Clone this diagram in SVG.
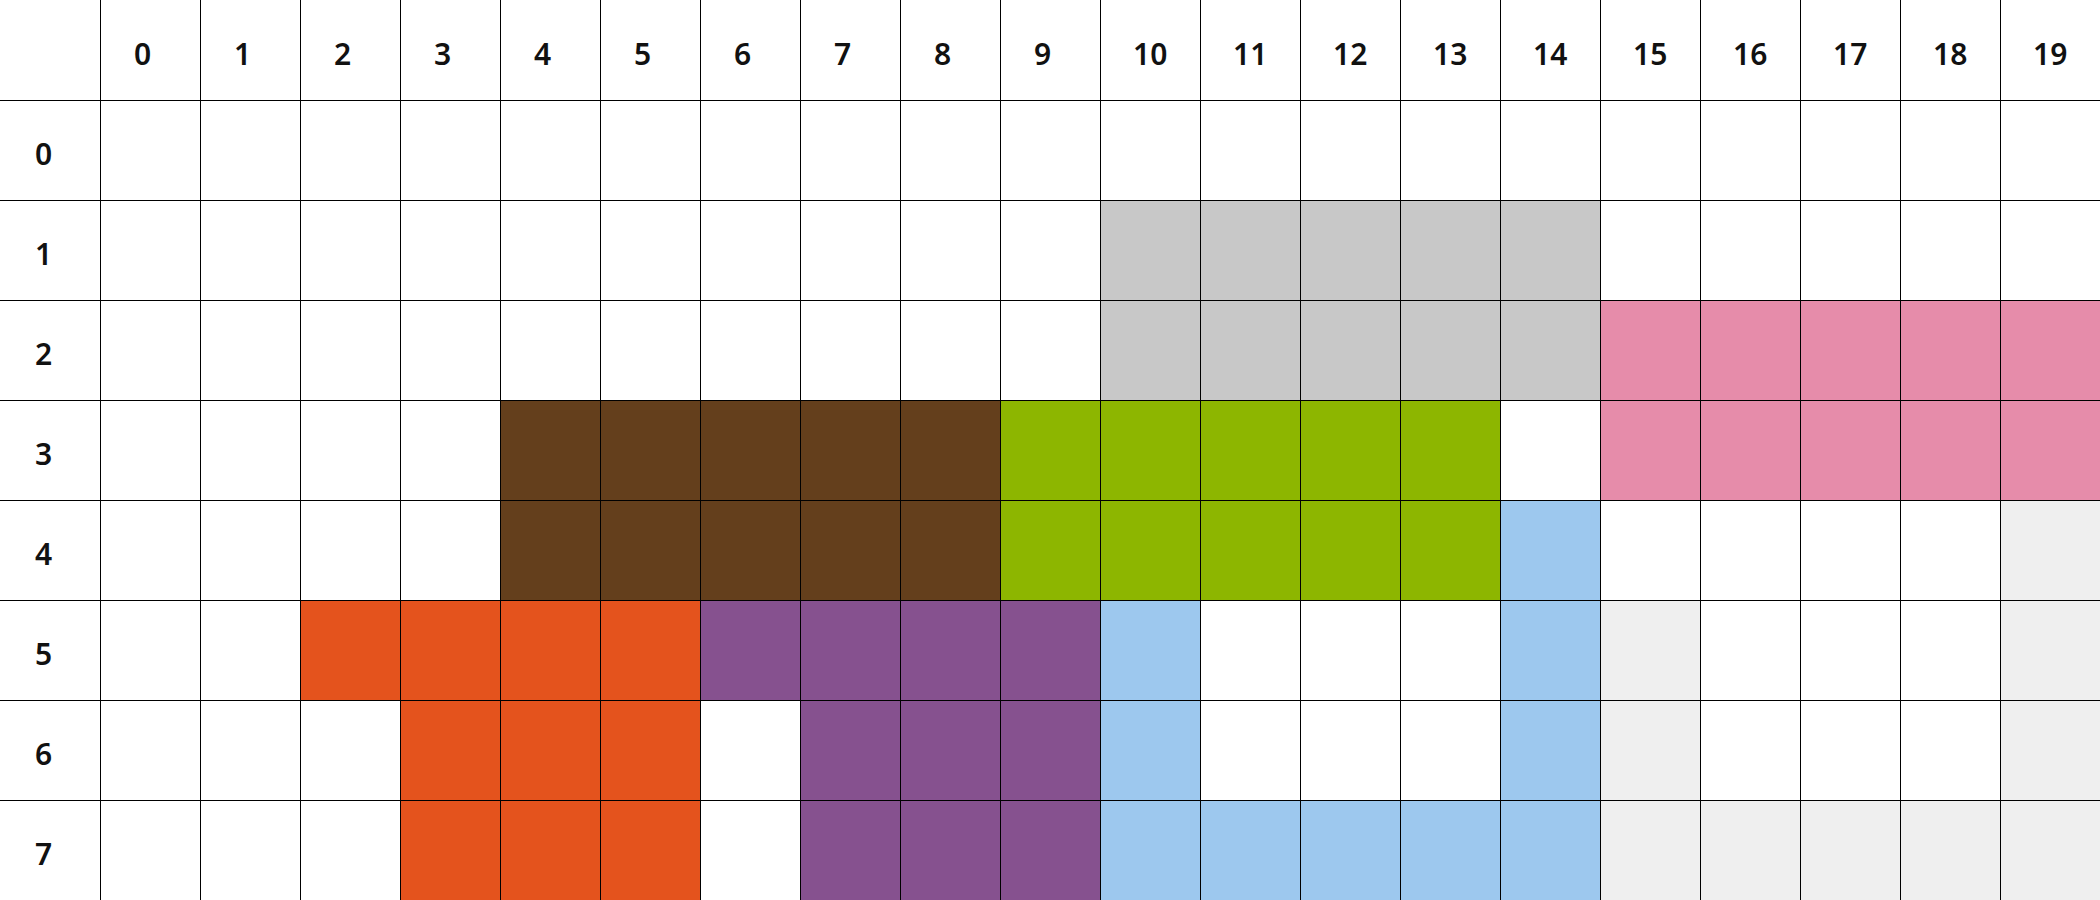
<svg xmlns="http://www.w3.org/2000/svg" width="2100" height="900" viewBox="0 0 2100 900">
<style>
.lbl{font-family:"Noto Sans","Liberation Sans",sans-serif;font-size:30px;font-weight:600;fill:#111}
.grid line{stroke:#000;stroke-width:1}
.gray{fill:#c8c8c8}.pink{fill:#e68caa}.brown{fill:#643f1c}.green{fill:#8db600}
.blue{fill:#9dc8ee}.lgray{fill:#efefef}.orange{fill:#e4531d}.purple{fill:#86518f}
</style>
<rect width="2100" height="900" fill="#fff"/>
<g id="region-gray" class="gray">
<rect x="1100" y="200" width="500" height="200"/>
</g>
<g id="region-pink" class="pink">
<rect x="1600" y="300" width="500" height="200"/>
</g>
<g id="region-brown" class="brown">
<rect x="500" y="400" width="500" height="200"/>
</g>
<g id="region-green" class="green">
<rect x="1000" y="400" width="500" height="200"/>
</g>
<g id="region-blue" class="blue">
<rect x="1500" y="500" width="100" height="400"/>
<rect x="1100" y="600" width="100" height="300"/>
<rect x="1200" y="800" width="300" height="100"/>
</g>
<g id="region-lightgray" class="lgray">
<rect x="2000" y="500" width="100" height="400"/>
<rect x="1600" y="600" width="100" height="300"/>
<rect x="1700" y="800" width="300" height="100"/>
</g>
<g id="region-orange" class="orange">
<rect x="300" y="600" width="400" height="100"/>
<rect x="400" y="700" width="300" height="200"/>
</g>
<g id="region-purple" class="purple">
<rect x="700" y="600" width="400" height="100"/>
<rect x="800" y="700" width="300" height="200"/>
</g>
<g id="grid" class="grid">
<line x1="100.5" y1="0" x2="100.5" y2="900"/>
<line x1="200.5" y1="0" x2="200.5" y2="900"/>
<line x1="300.5" y1="0" x2="300.5" y2="900"/>
<line x1="400.5" y1="0" x2="400.5" y2="900"/>
<line x1="500.5" y1="0" x2="500.5" y2="900"/>
<line x1="600.5" y1="0" x2="600.5" y2="900"/>
<line x1="700.5" y1="0" x2="700.5" y2="900"/>
<line x1="800.5" y1="0" x2="800.5" y2="900"/>
<line x1="900.5" y1="0" x2="900.5" y2="900"/>
<line x1="1000.5" y1="0" x2="1000.5" y2="900"/>
<line x1="1100.5" y1="0" x2="1100.5" y2="900"/>
<line x1="1200.5" y1="0" x2="1200.5" y2="900"/>
<line x1="1300.5" y1="0" x2="1300.5" y2="900"/>
<line x1="1400.5" y1="0" x2="1400.5" y2="900"/>
<line x1="1500.5" y1="0" x2="1500.5" y2="900"/>
<line x1="1600.5" y1="0" x2="1600.5" y2="900"/>
<line x1="1700.5" y1="0" x2="1700.5" y2="900"/>
<line x1="1800.5" y1="0" x2="1800.5" y2="900"/>
<line x1="1900.5" y1="0" x2="1900.5" y2="900"/>
<line x1="2000.5" y1="0" x2="2000.5" y2="900"/>
<line x1="0" y1="100.5" x2="2100" y2="100.5"/>
<line x1="0" y1="200.5" x2="2100" y2="200.5"/>
<line x1="0" y1="300.5" x2="2100" y2="300.5"/>
<line x1="0" y1="400.5" x2="2100" y2="400.5"/>
<line x1="0" y1="500.5" x2="2100" y2="500.5"/>
<line x1="0" y1="600.5" x2="2100" y2="600.5"/>
<line x1="0" y1="700.5" x2="2100" y2="700.5"/>
<line x1="0" y1="800.5" x2="2100" y2="800.5"/>
</g>
<g id="col-labels" class="lbl">
<text x="134" y="65">0</text>
<text x="234" y="65">1</text>
<text x="334" y="65">2</text>
<text x="434" y="65">3</text>
<text x="534" y="65">4</text>
<text x="634" y="65">5</text>
<text x="734" y="65">6</text>
<text x="834" y="65">7</text>
<text x="934" y="65">8</text>
<text x="1034" y="65">9</text>
<text x="1133" y="65">10</text>
<text x="1233" y="65">11</text>
<text x="1333" y="65">12</text>
<text x="1433" y="65">13</text>
<text x="1533" y="65">14</text>
<text x="1633" y="65">15</text>
<text x="1733" y="65">16</text>
<text x="1833" y="65">17</text>
<text x="1933" y="65">18</text>
<text x="2033" y="65">19</text>
</g>
<g id="row-labels" class="lbl">
<text x="35" y="165">0</text>
<text x="35" y="265">1</text>
<text x="35" y="365">2</text>
<text x="35" y="465">3</text>
<text x="35" y="565">4</text>
<text x="35" y="665">5</text>
<text x="35" y="765">6</text>
<text x="35" y="865">7</text>
</g>
</svg>
